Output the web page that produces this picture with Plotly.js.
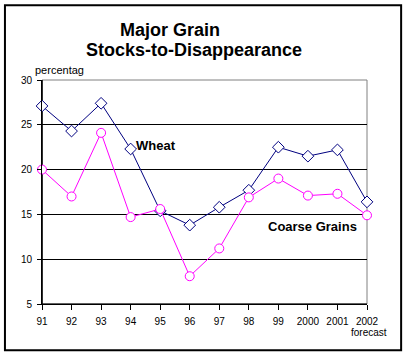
<!DOCTYPE html>
<html>
<head>
<meta charset="utf-8">
<script src="https://cdn.plot.ly/plotly-3.0.1.min.js"></script>
<style>html,body{margin:0;padding:0;background:#fff;}#chart{width:410px;height:357px;}</style>
</head>
<body>
<div id="chart"></div>
<script>
const years = ["91","92","93","94","95","96","97","98","99","2000","2001","2002"];
const wheat = [27.1, 24.3, 27.4, 22.3, 15.4, 13.8, 15.8, 17.7, 22.5, 21.5, 22.2, 16.4];
const coarseGrains = [20.0, 17.0, 24.1, 14.7, 15.6, 8.1, 11.2, 16.9, 19.0, 17.1, 17.3, 14.9];
const yTicks = [5, 10, 15, 20, 25, 30];

const traces = [
  {x: years, y: wheat, type: 'scatter', mode: 'lines+markers', name: 'Wheat',
   line: {color: '#000080', width: 1},
   marker: {symbol: 'diamond', size: 9, color: '#ffffff', line: {color: '#000080', width: 1}},
   cliponaxis: false},
  {x: years, y: coarseGrains, type: 'scatter', mode: 'lines+markers', name: 'Coarse Grains',
   line: {color: '#ff00ff', width: 1},
   marker: {symbol: 'circle', size: 9, color: '#ffffff', line: {color: '#ff00ff', width: 1}},
   cliponaxis: false}
];

const layout = {
  width: 410, height: 357,
  margin: {l: 42, r: 43, t: 80, b: 52.5},
  paper_bgcolor: '#ffffff', plot_bgcolor: '#ffffff',
  showlegend: false,
  font: {family: 'Arial, Liberation Sans, sans-serif', size: 10, color: '#000'},
  xaxis: {type: 'category', range: [0, 11], showgrid: false, zeroline: false,
    showline: true, linecolor: '#000', linewidth: 1,
    ticks: 'outside', ticklen: 5, tickcolor: '#000', tickfont: {size: 10},
    ticklabelstandoff: 3},
  yaxis: {range: [5, 30], tickvals: yTicks, showgrid: true, gridcolor: '#000', gridwidth: 1,
    zeroline: false, showline: true, linecolor: '#000', linewidth: 1,
    ticks: 'outside', ticklen: 4, tickcolor: '#000', tickfont: {size: 10},
    ticklabelstandoff: 3},
  shapes: [
    {type: 'rect', xref: 'paper', yref: 'paper', x0: 0, x1: 1, y0: 0, y1: 1,
     line: {color: '#808080', width: 1}, layer: 'between'},
    {type: 'line', xref: 'paper', yref: 'paper', x0: 0, x1: 0, y0: 0, y1: 1,
     line: {color: '#000', width: 1.5}, layer: 'between'},
    {type: 'line', xref: 'paper', yref: 'paper', x0: 0, x1: 1, y0: 0, y1: 0,
     line: {color: '#000', width: 1}, layer: 'between'},
    {type: 'rect', xref: 'paper', yref: 'paper', x0: -0.114, x1: 1.105, y0: -0.207, y1: 1.334,
     line: {color: '#000', width: 2}}
  ],
  annotations: [
    {text: '<b>Major Grain</b>', xref: 'paper', yref: 'paper', x: 0.394, y: 1.223,
     showarrow: false, font: {size: 18}, xanchor: 'center', yanchor: 'middle'},
    {text: '<b>Stocks-to-Disappearance</b>', xref: 'paper', yref: 'paper', x: 0.469, y: 1.134,
     showarrow: false, font: {size: 18}, xanchor: 'center', yanchor: 'middle'},
    {text: 'percentag', xref: 'paper', yref: 'paper', x: 0.055, y: 1.045,
     showarrow: false, font: {size: 11}, xanchor: 'center', yanchor: 'middle'},
    {text: '<b>Wheat</b>', xref: 'x', yref: 'y', x: 3.87, y: 22.65,
     showarrow: false, font: {size: 13}, xanchor: 'center', yanchor: 'middle'},
    {text: '<b>Coarse Grains</b>', xref: 'x', yref: 'y', x: 9.17, y: 13.63,
     showarrow: false, font: {size: 13}, xanchor: 'center', yanchor: 'middle'},
    {text: 'forecast', xref: 'paper', yref: 'paper', x: 1.005, y: -0.127,
     showarrow: false, font: {size: 10}, xanchor: 'center', yanchor: 'middle'}
  ]
};

Plotly.newPlot('chart', traces, layout, {staticPlot: true, displayModeBar: false});
</script>
</body>
</html>
